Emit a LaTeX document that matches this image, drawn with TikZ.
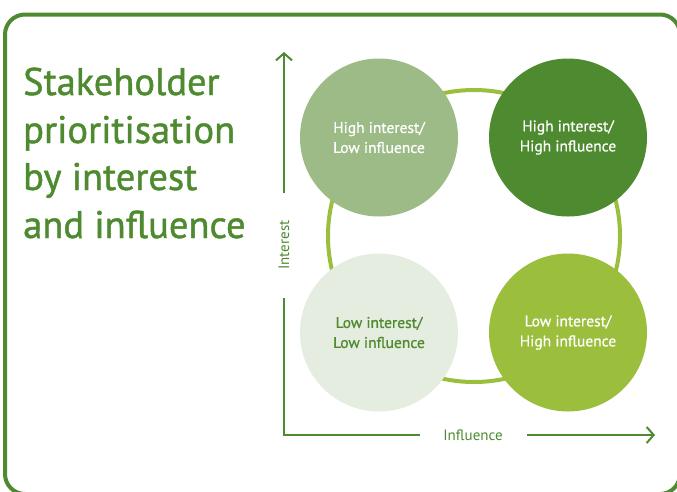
\documentclass[tikz,border=0pt]{standalone}
\usepackage{fontspec}
\setmainfont{PT Sans}
\newfontfamily\heavysans[FakeBold=1.2]{PT Sans}
\newfontfamily\labelsans[FakeBold=0.8]{PT Sans}
\usetikzlibrary{arrows.meta}
\definecolor{leaf}{HTML}{4E8A2F}
\definecolor{sage}{HTML}{9DBB87}
\definecolor{lime}{HTML}{9CBE3D}
\definecolor{mist}{HTML}{E5ECE0}
\begin{document}
\begin{tikzpicture}[x=1pt,y=-1pt,
  quad/.style={circle, minimum size=158pt, inner sep=0pt, align=center,
    font=\labelsans\fontsize{15.5}{20}\selectfont},
  axisline/.style={leaf, line width=2pt},
  axisarrow/.style={axisline, -{Straight Barb[length=7pt,width=16pt,line width=2pt]}},
  titleline/.style={anchor=base west, inner sep=0pt, text=leaf,
    font=\heavysans\fontsize{38.5}{40}\selectfont},
  axislabel/.style={text=leaf, inner sep=0pt, font=\fontsize{15}{17}\selectfont}]
\useasboundingbox (0,0) rectangle (677,491);

% outer frame, running off the right and bottom edges
\begin{scope}
  \clip (0,0) rectangle (677,491);
  \draw[leaf, line width=4pt, rounded corners=20pt] (5,14.5) rectangle (680,494);
\end{scope}

% title
\node[titleline] (t1) at (23,95)  {Stakeholder};
\node[titleline] (t2) at (23,143) {prioritisation};
\node[titleline] (t3) at (23,190) {by interest};
\node[titleline] (t4) at (23,238) {and influence};

% ring linking the four quadrants
\draw[lime, line width=4pt] (474,236) circle[radius=146];

% quadrants
\node[quad, fill=sage,  text=white] (hilo) at (379,137.5) {High interest/\\Low influence};
\node[quad, fill=leaf,  text=white] (hihi) at (568,137.5) {High interest/\\High influence};
\node[quad, fill=mist,  text=leaf]  (lolo) at (379,332.5) {Low interest/\\Low influence};
\node[quad, fill=lime,  text=white] (lohi) at (568,332.5) {Low interest/\\High influence};

% axes
\coordinate (origin) at (284,435);
\coordinate (ylow)   at (284,298);
\coordinate (yhigh)  at (284,193);
\coordinate (ytip)   at (284,52);
\coordinate (xleft)  at (420,435);
\coordinate (xright) at (527,435);
\coordinate (xtip)   at (655,435);
\node[axislabel, rotate=90] (ylab) at (284,245) {Interest};
\node[axislabel] (xlab) at (473,435) {Influence};
\draw[axisline] (ylow) -- (origin) -- (xleft);
\draw[axisarrow] (yhigh) -- (ytip);
\draw[axisarrow] (xright) -- (xtip);
\end{tikzpicture}
\end{document}
